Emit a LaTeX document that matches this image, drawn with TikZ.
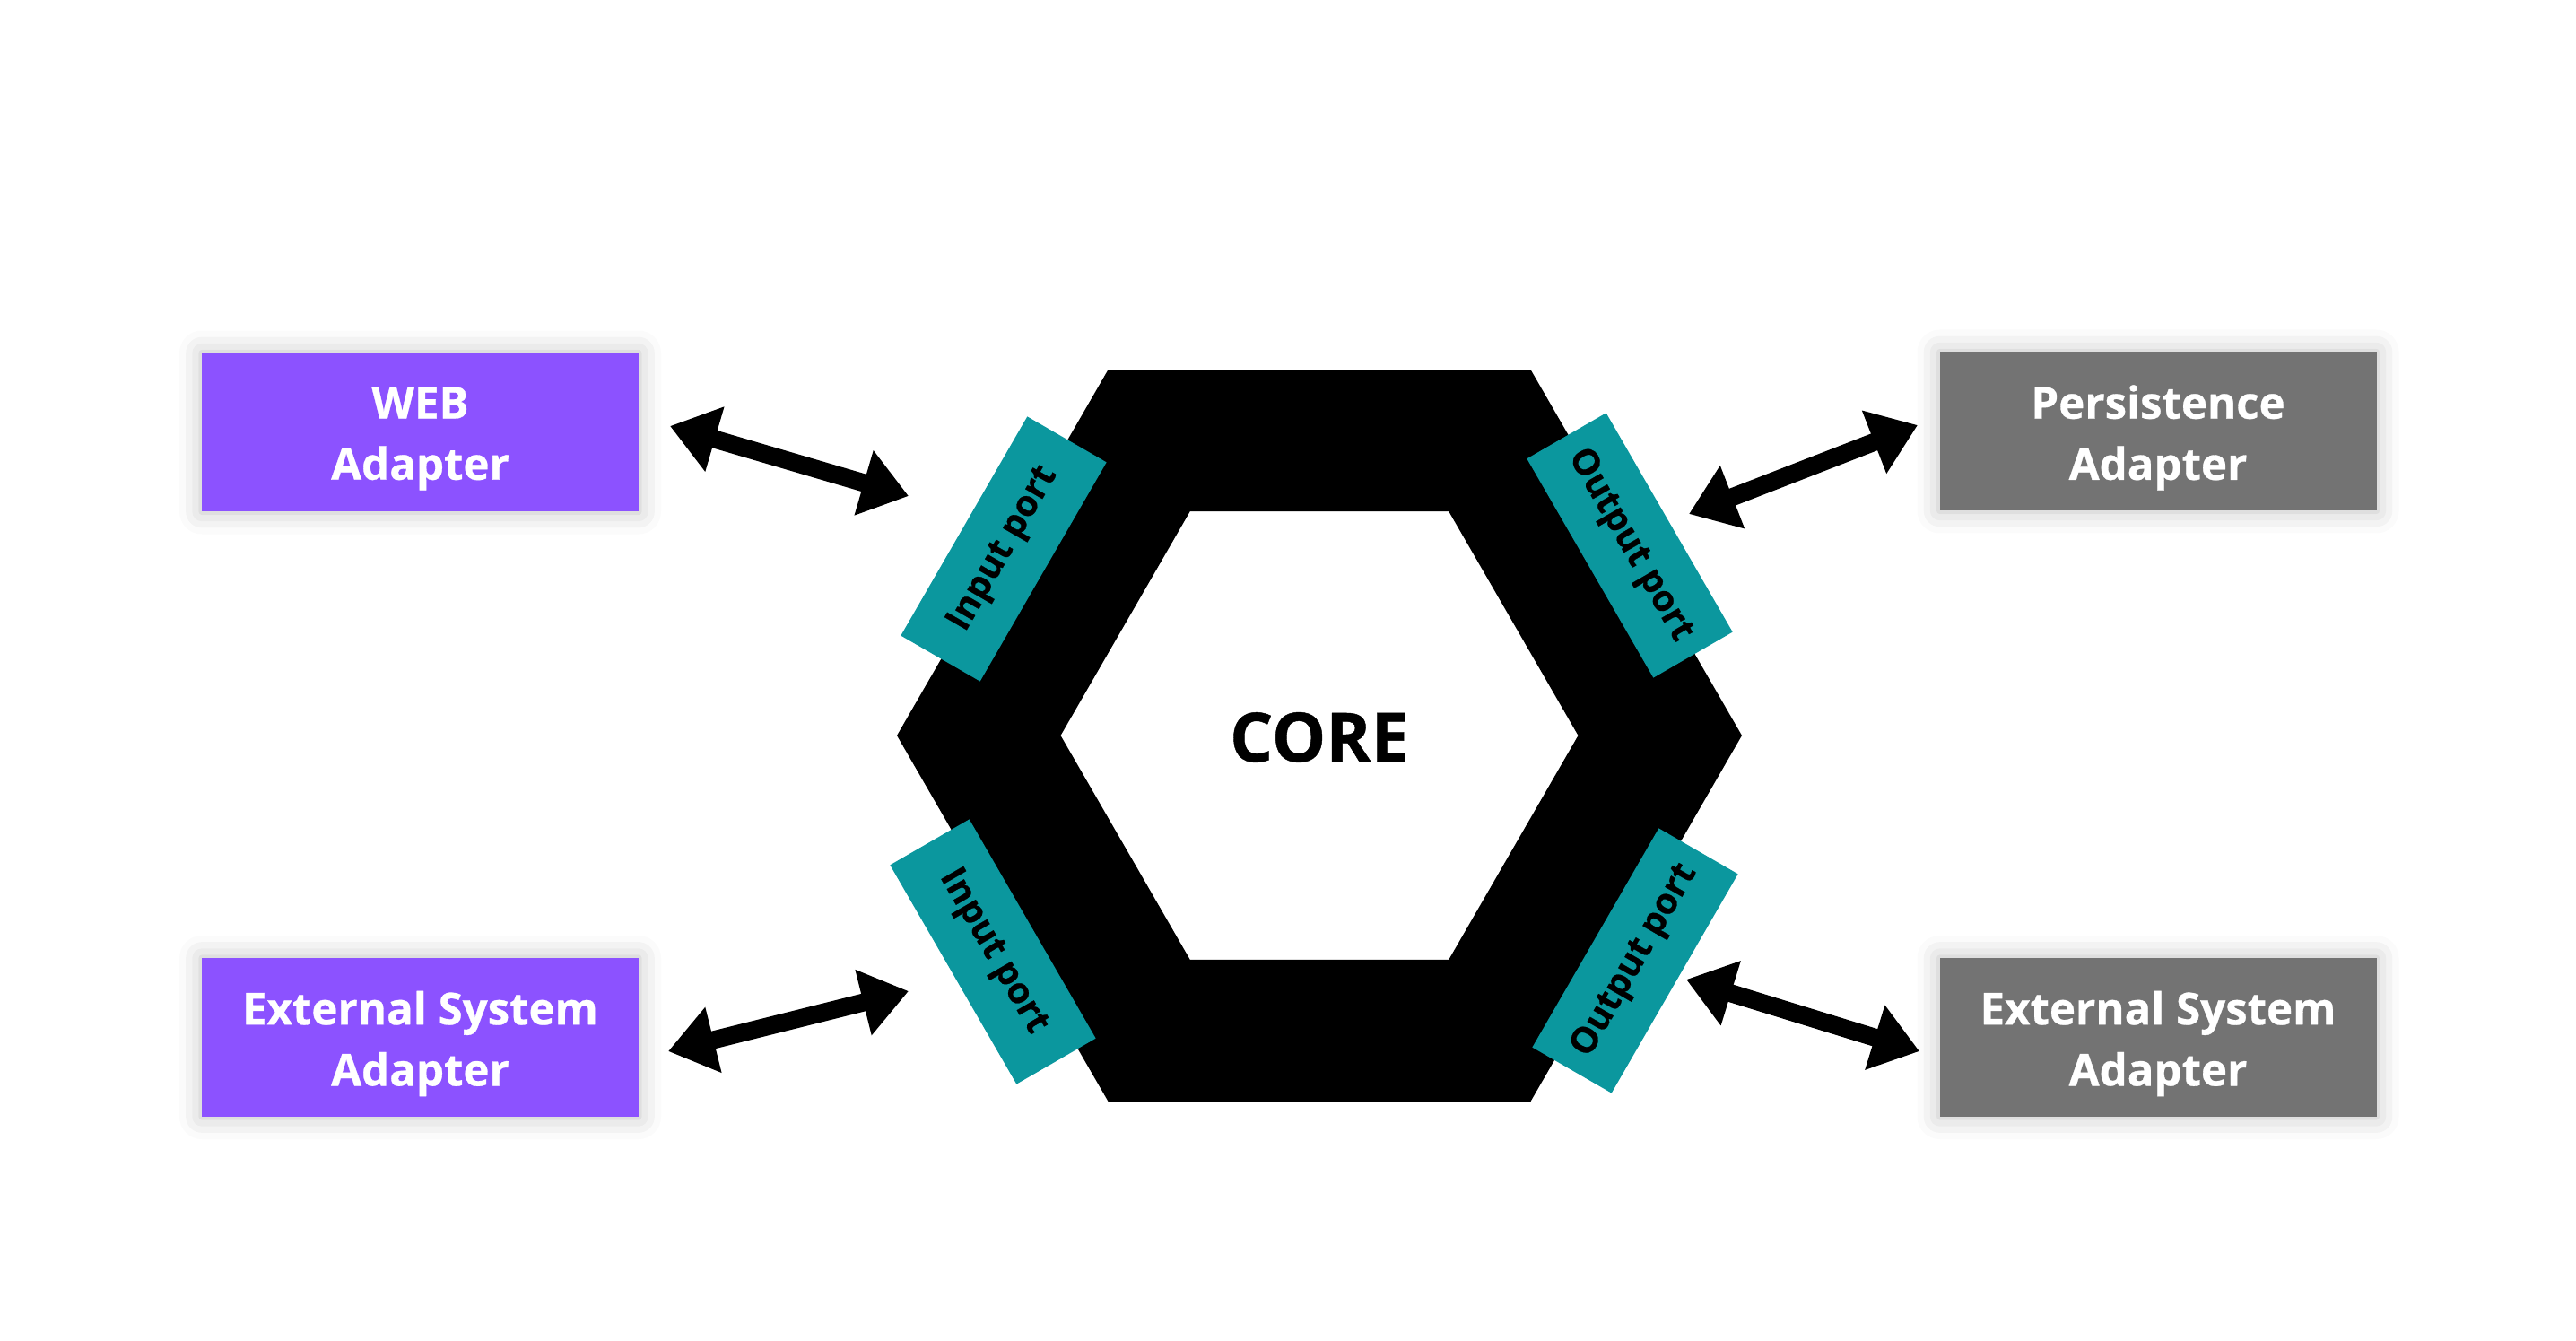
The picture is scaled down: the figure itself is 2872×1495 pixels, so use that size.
\documentclass[tikz,border=0pt]{standalone}
\usepackage{fontspec}
\setmainfont{Open Sans}[BoldFeatures={FakeBold=0.6}]
\usetikzlibrary{arrows.meta,shadows.blur}

\definecolor{webpurple}{HTML}{8C52FF}
\definecolor{adaptgray}{HTML}{737373}
\definecolor{portteal}{HTML}{0B979E}

\begin{document}
\begin{tikzpicture}[
    x=0.1mm,y=-0.1mm,
    line cap=round,
    line join=round,
    adapter/.style={
      fill=#1,text=white,
      minimum width=48.7mm,minimum height=17.7mm,
      inner sep=0pt,align=center,
      font=\fontsize{14}{19.4}\selectfont\bfseries,
      blur shadow={shadow xshift=0pt,shadow yshift=0pt,
        shadow blur radius=2.5mm,shadow opacity=25}
    },
    port/.style={
      fill=portteal,
      minimum width=28.2mm,minimum height=10.2mm,inner sep=0pt,
      font=\fontsize{11.4}{13}\selectfont\bfseries
    },
    biarrow/.style={
      {Triangle[length=5.2mm,width=7.2mm]}-{Triangle[length=5.2mm,width=7.2mm]},
      line width=2mm,line cap=butt
    },
]
\useasboundingbox (0,0) rectangle (2872,1495);
% hexagon ring
\begin{scope}[shift={(1471,820)}]
\fill[black,even odd rule]
  (0:471) -- (60:471) -- (120:471) -- (180:471) -- (240:471) -- (300:471) -- cycle
  (0:288.5) -- (60:288.5) -- (120:288.5) -- (180:288.5) -- (240:288.5) -- (300:288.5) -- cycle;
\end{scope}
\node[font=\fontsize{21.6}{26}\selectfont\bfseries] (core) at (1471,822) {CORE};

% ports
\node[port,rotate=60] (inport1) at (1119,612) {Input port};
\node[port,rotate=-60] (outport1) at (1817,608) {Output port};
\node[port,rotate=-60] (inport2) at (1107,1061) {Input port};
\node[port,rotate=60] (outport2) at (1823,1071) {Output port};

% adapters
\node[adapter=webpurple] (web) at (468.5,482) {};
\node[adapter=webpurple] (extin) at (468.5,1156.5) {};
\node[adapter=adaptgray] (persist) at (2406,481) {};
\node[adapter=adaptgray] (extout) at (2406,1156.5) {};
% adapter labels, a little below the box centres
\node[align=center,text=white,font=\fontsize{14}{19.4}\selectfont\bfseries]
  (web-label) at ([yshift=-0.7mm]web.center) {WEB\\Adapter};
\node[align=center,text=white,font=\fontsize{14}{19.4}\selectfont\bfseries]
  (extin-label) at ([yshift=-0.7mm]extin.center) {External System\\Adapter};
\node[align=center,text=white,font=\fontsize{14}{19.4}\selectfont\bfseries]
  (persist-label) at ([yshift=-0.7mm]persist.center) {Persistence\\Adapter};
\node[align=center,text=white,font=\fontsize{14}{19.4}\selectfont\bfseries]
  (extout-label) at ([yshift=-0.7mm]extout.center) {External System\\Adapter};

% arrow ends
\coordinate (web-e) at (747,475);
\coordinate (inport1-w) at (1013,553);
\coordinate (extin-e) at (745,1172);
\coordinate (inport2-w) at (1013,1105);
\coordinate (outport1-e) at (1883,573);
\coordinate (persist-w) at (2138,474);
\coordinate (outport2-e) at (1880,1092);
\coordinate (extout-w) at (2140,1172);

% arrows
\draw[biarrow] (web-e) -- (inport1-w);
\draw[biarrow] (extin-e) -- (inport2-w);
\draw[biarrow] (outport1-e) -- (persist-w);
\draw[biarrow] (outport2-e) -- (extout-w);
\end{tikzpicture}
\end{document}
